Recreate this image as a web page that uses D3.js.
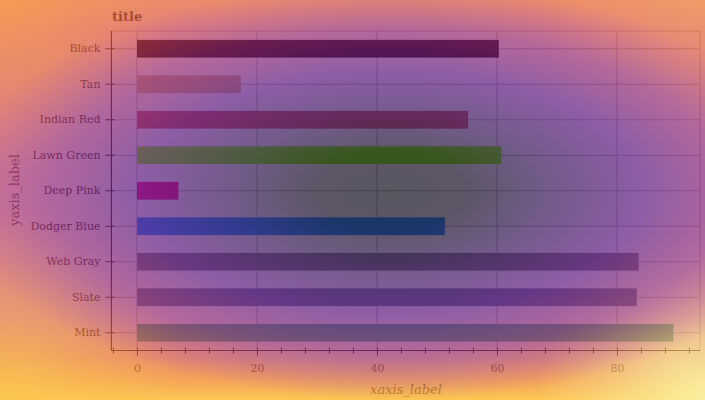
<!DOCTYPE html>
<html><head><meta charset="utf-8">
<script src="https://cdn.jsdelivr.net/npm/d3@7"></script>
<style>html,body{margin:0;padding:0;background:#fff}svg{display:block}</style>
</head><body>
<script>
const categories = ["Black","Tan","Indian Red","Lawn Green","Deep Pink","Dodger Blue","Web Gray","Slate","Mint"];
const values = [60.3, 17.3, 55.2, 60.7, 6.9, 51.3, 83.6, 83.3, 89.4];
const barColors = ["#000000","#D2B48C","#CD5C5C","#7CFC00","#FF1493","#1E90FF","#808080","#708090","#3EB489"];
const xTicks = [0,20,40,60,80];
const title = "title", xLabel = "xaxis_label", yLabel = "yaxis_label";

const W = 705, H = 400;
const svg = d3.select("body").append("svg").attr("width", W).attr("height", H);
const defs = svg.append("defs");
function stops(gr, list){ list.forEach(s=>gr.append("stop").attr("offset",s[0]).attr("stop-color",s[1]).attr("stop-opacity",s[2])); }
const base = defs.append("linearGradient").attr("id","base").attr("x1",0).attr("y1",0).attr("x2",0).attr("y2",1);
stops(base, [[0,"#e45c2d",1],[0.08,"#d44548",1],[0.5,"#ba3868",1],[0.8,"#c8405a",1],[0.89,"#db5430",1],[0.95,"#f17e13",1],[1,"#fcaf0a",1]]);
const inner = defs.append("radialGradient").attr("id","inner")
  .attr("gradientUnits","userSpaceOnUse").attr("cx",0).attr("cy",0).attr("r",1)
  .attr("gradientTransform","translate(390,192) scale(435,208)");
stops(inner, [[0,"#130e1f",1],[0.18,"#1a1028",1],[0.38,"#3a175e",1],[0.58,"#5e1a80",1],[0.78,"#80207c",0.75],[1,"#a02870",0]]);
function corner(id, cx, cy, r, col, op){
  const gr = defs.append("radialGradient").attr("id",id).attr("gradientUnits","userSpaceOnUse")
    .attr("cx",cx).attr("cy",cy).attr("r",r);
  stops(gr, [[0,col,op],[1,col,0]]);
}
corner("tl",0,0,170,"#f17805",0.8);
corner("tr",705,0,170,"#f08a20",0.5);
corner("br",705,400,170,"#f8ea77",1);
corner("bl",0,400,190,"#fcb005",0.8);

svg.append("rect").attr("width",W).attr("height",H).attr("fill","#fff");

const x = d3.scaleLinear().domain([-26/6, 563/6]).range([111, 700]);
const y = d3.scaleBand().domain(categories).range([31, 350.5]).paddingInner(0.5).paddingOuter(0.25);

const g = svg.append("g");
g.selectAll(".vg").data(xTicks).join("line")
  .attr("x1",d=>x(d)).attr("x2",d=>x(d)).attr("y1",31).attr("y2",350.5)
  .attr("stroke","#b8b8b8").attr("stroke-width",1);
g.selectAll(".hg").data(categories).join("line")
  .attr("x1",111).attr("x2",700).attr("y1",d=>y(d)+y.bandwidth()/2).attr("y2",d=>y(d)+y.bandwidth()/2)
  .attr("stroke","#b8b8b8").attr("stroke-width",1);
g.append("rect").attr("x",111).attr("y",31).attr("width",589).attr("height",319.5)
  .attr("fill","none").attr("stroke","#b8b8b8");

g.selectAll(".bar").data(categories).join("rect")
  .attr("x",x(0)).attr("y",d=>y(d))
  .attr("width",(d,i)=>x(values[i])-x(0)).attr("height",y.bandwidth())
  .attr("fill",(d,i)=>barColors[i]);

const xAxis = d3.axisBottom(x).tickValues(d3.range(-4, 93, 4)).tickSize(5).tickFormat(d=> xTicks.includes(d)? d : "");
const xa = g.append("g").attr("transform","translate(0,350.5)").call(xAxis);
xa.select(".domain").attr("d","M111,0H700").attr("stroke","#222");
xa.selectAll(".tick line").attr("y1",-3).attr("y2",d=>xTicks.includes(d)?5:3).attr("stroke","#222");
xa.selectAll(".tick text").attr("y",14).attr("font-family","DejaVu Serif").attr("font-size",11).attr("fill","#555");

const yAxis = d3.axisLeft(y).tickSize(6);
const ya = g.append("g").attr("transform","translate(111.5,0)").call(yAxis);
ya.select(".domain").attr("d","M0,31V350.5").attr("stroke","#222");
ya.selectAll(".tick line").attr("x1",3).attr("x2",-6).attr("stroke","#222");
ya.selectAll(".tick text").attr("x",-11).attr("font-family","DejaVu Serif").attr("font-size",11).attr("fill","#333");

svg.append("text").attr("x",112).attr("y",21).text(title)
  .attr("font-family","DejaVu Serif").attr("font-weight","bold").attr("font-size",13).attr("fill","#333");
svg.append("text").attr("x",406).attr("y",394).attr("text-anchor","middle").text(xLabel)
  .attr("font-family","DejaVu Serif").attr("font-style","italic").attr("font-size",13).attr("fill","#555");
svg.append("text").attr("transform","translate(19,190) rotate(-90)").attr("text-anchor","middle").text(yLabel)
  .attr("font-family","DejaVu Serif").attr("font-size",13).attr("fill","#555");

const ov = svg.append("g").attr("opacity",0.7).attr("pointer-events","none");
["base","tl","tr","bl","br","inner"].forEach(id=>ov.append("rect").attr("width",W).attr("height",H).attr("fill",`url(#${id})`));
</script>
</body></html>
